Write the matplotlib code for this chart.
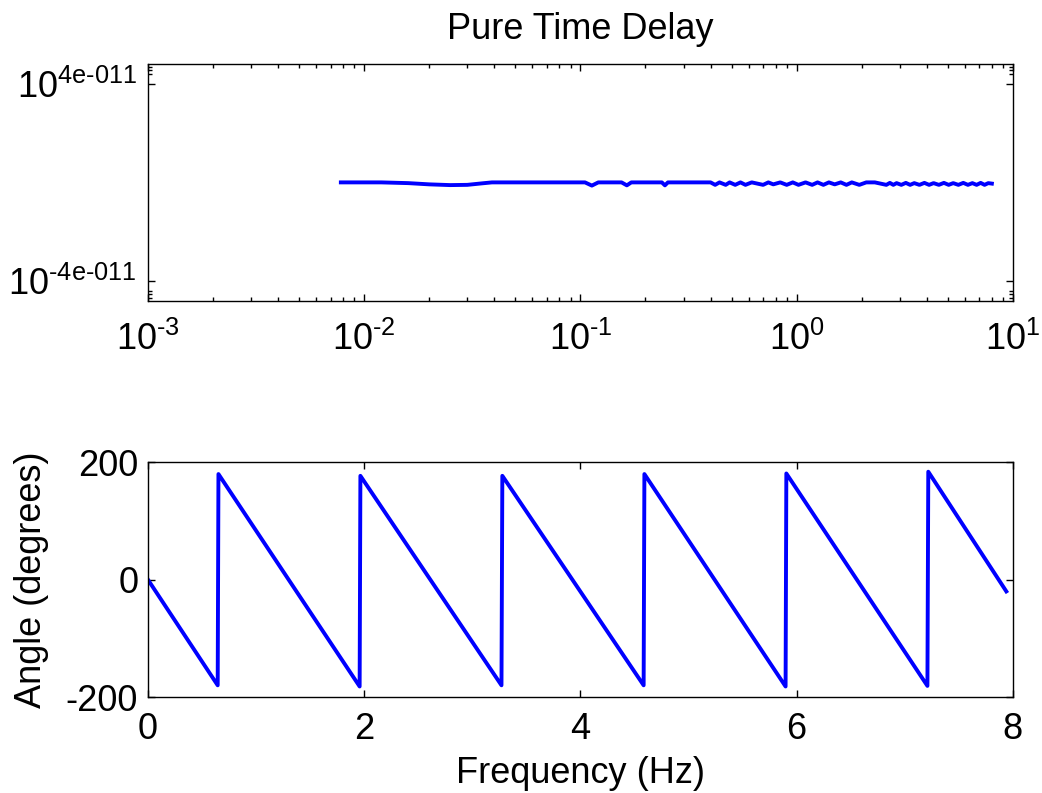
import matplotlib
matplotlib.use("Agg")
import matplotlib.pyplot as plt
from matplotlib.ticker import LogLocator, NullFormatter

# Magnitude (top): frequency in Hz, log10 of magnitude in units of 1e-11
mag_f = [0.0078, 0.012, 0.016, 0.02, 0.025, 0.03, 0.035, 0.039, 0.105, 0.113, 0.121,
         0.155, 0.164, 0.172, 0.238, 0.246, 0.254, 0.40, 0.42, 0.44, 0.47, 0.49, 0.52,
         0.55, 0.58, 0.62, 0.70, 0.74, 0.78, 0.84, 0.90, 0.96, 1.02, 1.10, 1.18, 1.25,
         1.33, 1.41, 1.50, 1.60, 1.70, 1.80, 1.95, 2.10, 2.30, 2.60, 2.70, 2.80, 2.90,
         3.05, 3.20, 3.35, 3.50, 3.70, 3.90, 4.10, 4.30, 4.55, 4.80, 5.05, 5.30, 5.60,
         5.90, 6.20, 6.50, 6.80, 7.10, 7.40, 7.70, 8.0]
mag_exp = [0.0, 0.0, -0.03, -0.08, -0.11, -0.1, -0.04, 0.0, 0.0, -0.13, 0.0,
           0.0, -0.12, 0.0, 0.0, -0.12, 0.0, 0.0, -0.1, 0.0, -0.1, 0.0, -0.1,
           0.0, -0.1, 0.0, -0.1, 0.0, -0.08, 0.0, -0.1, 0.0, -0.1, 0.0, -0.1, 0.0,
           -0.1, 0.0, -0.08, 0.0, -0.1, 0.0, -0.1, 0.0, 0.0, -0.1, -0.02, -0.1, -0.03,
           -0.1, -0.02, -0.1, -0.03, -0.1, -0.02, -0.1, -0.03, -0.1, -0.02, -0.1, -0.03, -0.1,
           -0.02, -0.1, -0.03, -0.1, -0.02, -0.1, -0.03, -0.05]

# Phase (bottom): frequency in Hz, angle in degrees
phase_f = [0, 0.645, 0.652, 1.958, 1.965, 3.27, 3.278, 4.585, 4.592, 5.898, 5.905,
           7.21, 7.218, 7.94]
phase_deg = [0, -180, 180, -182, 177, -180, 177, -180, 180, -182, 181, -181, 184, -20]

mag_ticks = [-4, 4]
mag_labels = [r"$\mathregular{10^{\text{-}4e\text{-}011}}$",
              r"$\mathregular{10^{4e\text{-}011}}$"]
dec_ticks = [1e-3, 1e-2, 1e-1, 1e0, 1e1]
dec_labels = [r"$\mathregular{10^{\text{-}3}}$", r"$\mathregular{10^{\text{-}2}}$",
              r"$\mathregular{10^{\text{-}1}}$", r"$\mathregular{10^{0}}$",
              r"$\mathregular{10^{1}}$"]

plt.rcParams["font.family"] = ["Liberation Sans", "DejaVu Sans"]
plt.rcParams["mathtext.fontset"] = "custom"
plt.rcParams["mathtext.rm"] = "Liberation Sans"
plt.rcParams["axes.linewidth"] = 1.0
plt.rcParams["axes.unicode_minus"] = False

FS = 26

fig = plt.figure(figsize=(10.42, 7.93), dpi=100)

# Top plot: magnitude
ax1 = fig.add_axes([0.142, 0.621, 0.830, 0.298])
ax1.set_xscale("log")
ax1.plot(mag_f, mag_exp, color="#0000ff", lw=2.8)
ax1.set_xlim(1e-3, 10)
ax1.set_ylim(-4.8, 4.8)
ax1.set_xticks(dec_ticks)
ax1.set_xticklabels(dec_labels)
ax1.xaxis.set_minor_locator(LogLocator(base=10, subs=range(2, 10)))
ax1.xaxis.set_minor_formatter(NullFormatter())
ax1.set_yticks(mag_ticks)
ax1.set_yticklabels(mag_labels)
ax1.set_yticks([-4.7, -4.55, -4.4, 4.4, 4.55, 4.7], minor=True)
ax1.tick_params(which="both", direction="in", top=True, right=True,
                labelsize=FS, pad=8)
ax1.tick_params(axis="x", which="major", pad=15)
ax1.tick_params(which="major", length=5, width=1)
ax1.tick_params(which="minor", length=3, width=1)
ax1.set_title("Pure Time Delay", fontsize=FS, pad=18)

# Bottom plot: phase
ax2 = fig.add_axes([0.142, 0.121, 0.830, 0.296])
ax2.plot(phase_f, phase_deg, color="#0000ff", lw=2.8)
ax2.set_xlim(0, 8)
ax2.set_ylim(-200, 200)
ax2.set_xticks([0, 2, 4, 6, 8])
ax2.set_yticks([-200, 0, 200])
ax2.tick_params(which="both", direction="in", top=True, right=True,
                labelsize=FS, pad=7, length=5, width=1)
ax2.tick_params(axis="x", pad=11)
ax2.set_xlabel("Frequency (Hz)", fontsize=FS, labelpad=6)
ax2.set_ylabel("Angle (degrees)", fontsize=FS, labelpad=12)

fig.savefig("out.png", dpi=100)
